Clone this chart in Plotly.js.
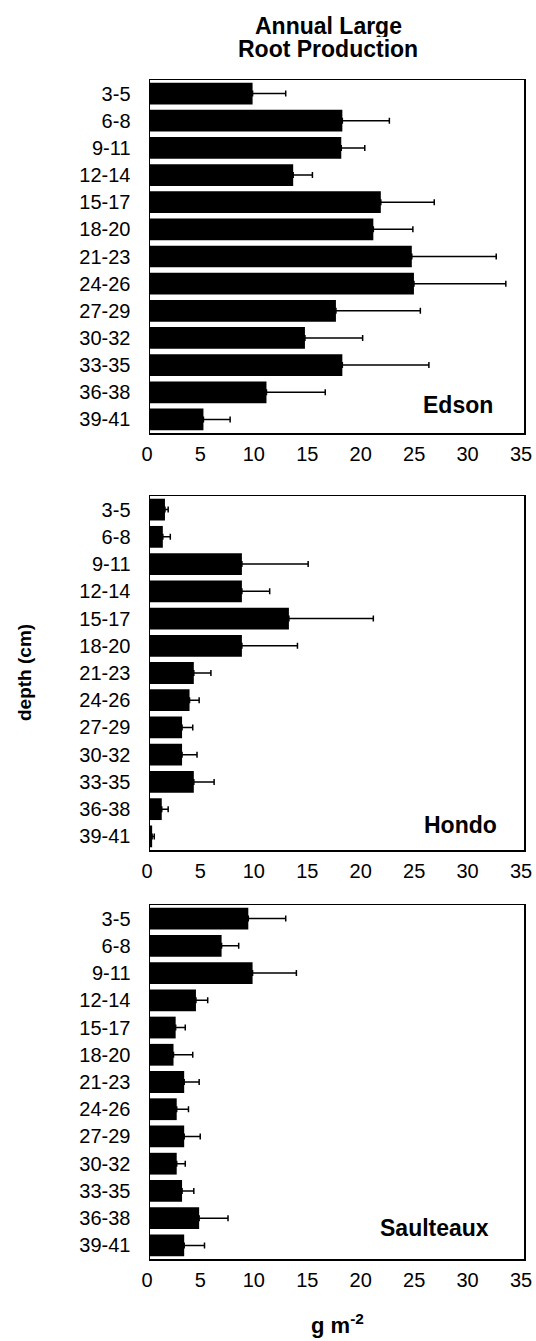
<!DOCTYPE html>
<html>
<head>
<meta charset="utf-8">
<script src="https://cdn.plot.ly/plotly-3.0.1.min.js"></script>
<style>html,body{margin:0;padding:0;background:#fff;}#chart{width:536px;height:1341px;}</style>
</head>
<body>
<div id="chart"></div>
<script>
// Depth classes (cm)
const depths = ["3-5","6-8","9-11","12-14","15-17","18-20","21-23","24-26","27-29","30-32","33-35","36-38","39-41"];
const sites = ["Edson","Hondo","Saulteaux"];
const xTicks = [0,5,10,15,20,25,30,35];

// Annual large root production, g m-2
const edsonValues = [9.6, 18.0, 17.9, 13.4, 21.6, 20.9, 24.5, 24.7, 17.4, 14.5, 18.0, 10.9, 5.0];
const edsonErrors = [3.1, 4.4, 2.2, 1.8, 5.0, 3.7, 7.9, 8.6, 7.9, 5.4, 8.1, 5.5, 2.5];
const hondoValues = [1.4, 1.2, 8.6, 8.6, 13.0, 8.6, 4.1, 3.7, 3.0, 3.0, 4.1, 1.1, 0.2];
const hondoErrors = [0.3, 0.7, 6.2, 2.6, 7.9, 5.2, 1.6, 0.9, 1.0, 1.4, 1.9, 0.6, 0.2];
const saulteauxValues = [9.2, 6.7, 9.6, 4.3, 2.4, 2.2, 3.2, 2.5, 3.2, 2.5, 3.0, 4.6, 3.2];
const saulteauxErrors = [3.5, 1.6, 4.1, 1.1, 0.9, 1.8, 1.4, 1.1, 1.5, 0.8, 1.1, 2.7, 1.9];

const W = 536, H = 1341;
const FONT = "Liberation Sans, Arial, Helvetica, sans-serif";
const px = v => v / W;
const py = v => 1 - v / H;

const valueSets = [edsonValues, hondoValues, saulteauxValues];
const errorSets = [edsonErrors, hondoErrors, saulteauxErrors];
// panel boxes in pixels (top, bottom)
const boxes = [[80, 433], [496, 850], [905, 1259]];
const labelPos = [[495, 405], [499, 825], [491, 1228]];

const data = valueSets.map((vals, i) => ({
  type: "bar",
  orientation: "h",
  x: vals,
  y: depths,
  width: 0.8,
  marker: {color: "#000", line: {width: 0}},
  error_x: {
    type: "data",
    symmetric: false,
    array: errorSets[i],
    arrayminus: vals.map(() => 0),
    color: "#000",
    thickness: 1.5,
    width: 3
  },
  xaxis: i === 0 ? "x" : "x" + (i + 1),
  yaxis: i === 0 ? "y" : "y" + (i + 1),
  hoverinfo: "none",
  showlegend: false
}));

const layout = {
  width: W, height: H,
  margin: {l: 0, r: 0, t: 0, b: 0},
  paper_bgcolor: "#fff",
  plot_bgcolor: "#fff",
  font: {family: FONT, color: "#000", size: 20},
  bargap: 0.2,
  annotations: []
};

boxes.forEach((b, i) => {
  const xa = i === 0 ? "xaxis" : "xaxis" + (i + 1);
  const ya = i === 0 ? "yaxis" : "yaxis" + (i + 1);
  const yref = i === 0 ? "y" : "y" + (i + 1);
  const xref = i === 0 ? "x" : "x" + (i + 1);
  layout[xa] = {
    domain: [px(150), px(524)],
    anchor: yref,
    range: [0, 35],
    tickvals: xTicks,
    ticktext: xTicks.map(String),
    ticks: "",
    showgrid: false,
    zeroline: false,
    showline: true,
    mirror: true,
    linecolor: "#000",
    linewidth: 1.5,
    tickfont: {family: FONT, size: 20, color: "#000"},
    ticklabelstandoff: 2,
    ticklabelshift: -3,
    fixedrange: true
  };
  layout[ya] = {
    domain: [py(b[1]), py(b[0])],
    anchor: xref,
    type: "category",
    categoryorder: "array",
    categoryarray: depths,
    range: [12.5, -0.5],
    ticks: "",
    showgrid: false,
    zeroline: false,
    showline: true,
    mirror: true,
    linecolor: "#000",
    linewidth: 1.5,
    tickfont: {family: FONT, size: 20, color: "#000"},
    ticklabelstandoff: 14,
    fixedrange: true
  };
  layout.annotations.push({
    xref: "paper", yref: "paper",
    x: px(labelPos[i][0]), y: py(labelPos[i][1]),
    xanchor: "right", yanchor: "middle",
    text: "<b>" + sites[i] + "</b>",
    showarrow: false,
    font: {family: FONT, size: 23, color: "#000"}
  });
});

// Title (two lines, tight spacing)
layout.annotations.push({
  xref: "paper", yref: "paper", x: px(328), y: py(25),
  xanchor: "center", yanchor: "middle", showarrow: false, height: 23,
  text: "<b>Annual Large</b>", font: {family: FONT, size: 23, color: "#000"}
});
layout.annotations.push({
  xref: "paper", yref: "paper", x: px(328), y: py(49),
  xanchor: "center", yanchor: "middle", showarrow: false, height: 23,
  text: "<b>Root Production</b>", font: {family: FONT, size: 23, color: "#000"}
});
// Y title
layout.annotations.push({
  xref: "paper", yref: "paper", x: px(24), y: py(673),
  xanchor: "center", yanchor: "middle", showarrow: false, textangle: -90,
  text: "<b>depth (cm)</b>", font: {family: FONT, size: 19, color: "#000"}
});
// X title
layout.annotations.push({
  xref: "paper", yref: "paper", x: px(337), y: py(1324),
  xanchor: "center", yanchor: "middle", showarrow: false,
  text: "<b>g m<sup>-2</sup></b>", font: {family: FONT, size: 22, color: "#000"}
});

Plotly.newPlot("chart", data, layout, {staticPlot: true, displayModeBar: false});
</script>
</body>
</html>
